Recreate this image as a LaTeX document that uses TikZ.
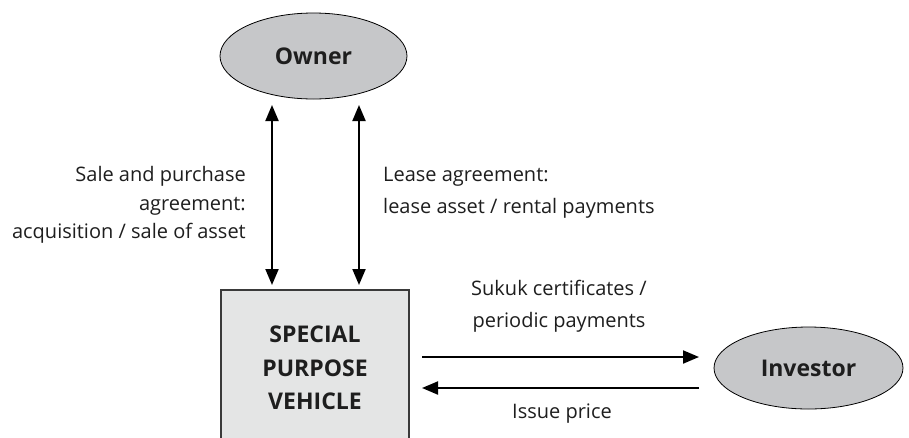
\documentclass[tikz,border=0pt]{standalone}
\usepackage{fontspec}
\setmainfont{Open Sans}
\usetikzlibrary{shapes.geometric,arrows.meta}
\definecolor{ellgray}{HTML}{C6C7C9}
\definecolor{boxgray}{HTML}{E4E5E5}
\definecolor{boxedge}{HTML}{3A3A3A}
\definecolor{txt}{HTML}{1E1E1E}
\tikzset{
  ell/.style={ellipse, draw=black, line width=0.8pt, fill=ellgray, inner sep=0pt,
    font=\fontsize{23}{27}\selectfont\bfseries, text=txt},
  spvbox/.style={rectangle, draw=boxedge, line width=1.2pt, fill=boxgray, inner sep=0pt,
    minimum width=188pt, minimum height=156pt, align=center, text=txt,
    font=\fontsize{23}{33.5}\selectfont\bfseries},
  lbl/.style={inner sep=0pt, text=txt},
  tip/.tip={Triangle[length=16pt,width=13pt]},
  arr/.style={line width=2pt, -tip},
  dbl/.style={line width=2pt, tip-tip}
}
\begin{document}
\begin{tikzpicture}[x=1pt,y=-1pt]
\useasboundingbox (0,0) rectangle (909,437);
\clip (0,0) rectangle (909,437);
\node[ell, minimum width=187pt, minimum height=86pt] (owner) at (313.5,56) {Owner};
\node[spvbox] (spv) at (315,368) {SPECIAL\\PURPOSE\\VEHICLE};
\node[ell, minimum width=189pt, minimum height=82pt] (investor) at (808.5,368) {Investor};
% connector end points
\coordinate (a1t) at (272,105);
\coordinate (a1b) at (272,285);
\coordinate (a2t) at (359,105);
\coordinate (a2b) at (359,285);
\coordinate (r1) at (422,357);
\coordinate (r2) at (699,357);
\coordinate (l1) at (699,388);
\coordinate (l2) at (422,388);
\draw[dbl] (a1t) -- (a1b);
\draw[dbl] (a2t) -- (a2b);
\draw[arr] (r1) -- (r2);
\draw[arr] (l1) -- (l2);
% labels (base anchor = baseline of last line)
\node[lbl, anchor=base east, align=right, font=\fontsize{20}{28.3}\selectfont] (sale) at (246,238.3)
  {Sale and purchase\\agreement:\\acquisition / sale of asset};
\node[lbl, anchor=base west, align=left, font=\fontsize{20}{32.5}\selectfont] (lease) at (383,213.5)
  {Lease agreement:\\lease asset / rental payments};
\node[lbl, anchor=base, align=center, font=\fontsize{20}{31.7}\selectfont] (sukuk) at (559,327)
  {Sukuk certificates /\\periodic payments};
\node[lbl, anchor=base, font=\fontsize{20}{24}\selectfont] (issue) at (562,418) {Issue price};
\end{tikzpicture}
\end{document}
